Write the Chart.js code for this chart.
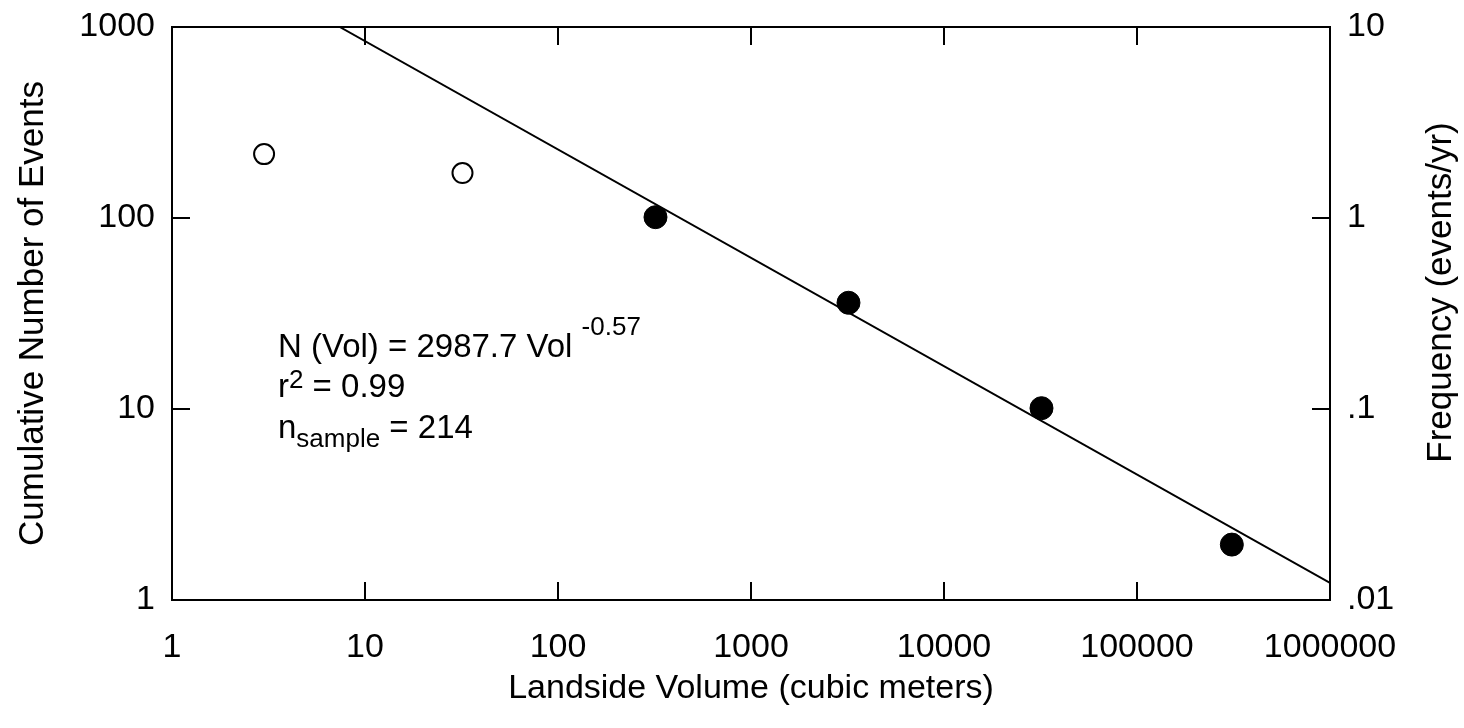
<!DOCTYPE html>
<html>
<head>
<meta charset="utf-8">
<script src="https://cdn.jsdelivr.net/npm/chart.js@4/dist/chart.umd.min.js"></script>
<style>
  html, body { margin: 0; padding: 0; background: #fff; }
  #wrap { width: 1464px; height: 728px; position: relative; }
</style>
</head>
<body>
<div id="wrap"><canvas id="myChart"></canvas></div>
<script>
// landslide volume vs cumulative number of events
const openVol = [3, 32];
const openCount = [216, 172];

const solidVol = [320, 3200, 32000, 310000];
const solidCount = [101, 36, 10.1, 1.95];

// fitted power law, end points
const fitVol = [7.4, 1000000];
const fitCount = [1000, 1.23];

const xTicks = [1, 10, 100, 1000, 10000, 100000, 1000000];
const xTickLabels = ['1', '10', '100', '1000', '10000', '100000', '1000000'];
const yTicks = [1, 10, 100, 1000];
const yTickLabels = ['1', '10', '100', '1000'];
const freqTicks = [0.01, 0.1, 1, 10];
const freqTickLabels = ['.01', '.1', '1', '10'];

const FONT = '"Liberation Sans", Arial, sans-serif';
Chart.defaults.font.family = FONT;
Chart.defaults.color = '#000';

const toPoints = (xs, ys) => xs.map((x, i) => ({ x: x, y: ys[i] }));

const setTicks = (vals) => (scale) => {
    scale.ticks = vals.map(v => ({ value: v }));
};

// fixed axis sizes so the plot box lands where the original is
const fixSize = (w, h) => (s) => {
    if (w !== null) s.width = w;
    if (h !== null) s.height = h;
    s.paddingTop = 0;
    s.paddingBottom = 0;
    s.paddingLeft = 0;
    s.paddingRight = 0;
};

const gridOpts = {
    drawOnChartArea: false,
    drawTicks: true,
    tickLength: -18,
    lineWidth: 2,
    tickWidth: 2,
    color: '#000',
    tickColor: '#000',
};
const borderOpts = { display: true, width: 2, color: '#000' };

// equation text inside the plot + right axis title (reads bottom to top)
const textPlugin = {
    id: 'eqn',
    afterDraw(chart) {
        const ctx = chart.ctx;
        const a = chart.chartArea;
        const big = '33px ' + FONT;
        const small = '26px ' + FONT;
        ctx.save();
        ctx.fillStyle = '#000';
        ctx.textBaseline = 'alphabetic';
        ctx.textAlign = 'left';

        const run = (x, y, parts) => {
            parts.forEach(p => {
                ctx.font = p.f;
                ctx.fillText(p.t, x, y + (p.dy || 0));
                x += ctx.measureText(p.t).width;
            });
        };
        const x0 = a.left + 106;
        run(x0, a.top + 330, [
            { t: 'N (Vol) = 2987.7 Vol ', f: big },
            { t: '-0.57', f: small, dy: -22 },
        ]);
        run(x0, a.top + 370, [
            { t: 'r', f: big },
            { t: '2', f: small, dy: -9 },
            { t: ' = 0.99', f: big },
        ]);
        run(x0, a.top + 411, [
            { t: 'n', f: big },
            { t: 'sample', f: small, dy: 9 },
            { t: ' = 214', f: big },
        ]);

        const s = chart.scales.y2;
        ctx.translate(s.right - 23, (a.top + a.bottom) / 2 - 21);
        ctx.rotate(-Math.PI / 2);
        ctx.textAlign = 'center';
        ctx.textBaseline = 'middle';
        ctx.font = '35px ' + FONT;
        ctx.fillText('Frequency (events/yr)', 0, 0);
        ctx.restore();
    }
};

const data = {
    datasets: [
        {
            label: 'fit',
            data: toPoints(fitVol, fitCount),
            showLine: true,
            borderColor: '#000',
            borderWidth: 2,
            pointRadius: 0,
            xAxisID: 'x',
            yAxisID: 'y',
        },
        {
            label: 'open',
            data: toPoints(openVol, openCount),
            pointRadius: 10,
            pointBorderWidth: 2,
            pointBorderColor: '#000',
            pointBackgroundColor: '#fff',
            xAxisID: 'x',
            yAxisID: 'y',
        },
        {
            label: 'solid',
            data: toPoints(solidVol, solidCount),
            pointRadius: 11.5,
            pointBorderWidth: 1,
            pointBorderColor: '#000',
            pointBackgroundColor: '#000',
            xAxisID: 'x',
            yAxisID: 'y',
        },
    ],
};

const config = {
    type: 'scatter',
    data: data,
    options: {
        responsive: true,
        maintainAspectRatio: false,
        animation: false,
        layout: { padding: 0 },
        plugins: {
            legend: { display: false },
            tooltip: { enabled: false },
        },
        scales: {
            x: {
                type: 'logarithmic',
                position: 'bottom',
                min: 1,
                max: 1000000,
                afterBuildTicks: setTicks(xTicks),
                afterFit: fixSize(null, 128),
                grid: gridOpts,
                border: borderOpts,
                ticks: {
                    font: { size: 34 },
                    padding: 45,
                    maxRotation: 0,
                    autoSkip: false,
                    callback: (v, i) => xTickLabels[i],
                },
                title: {
                    display: true,
                    text: 'Landside Volume (cubic meters)',
                    font: { size: 34 },
                    padding: { top: 0, bottom: 19 },
                },
            },
            x2: {
                type: 'logarithmic',
                position: 'top',
                min: 1,
                max: 1000000,
                afterBuildTicks: setTicks(xTicks),
                afterFit: fixSize(null, 27),
                grid: gridOpts,
                border: borderOpts,
                ticks: { display: false },
            },
            y: {
                type: 'logarithmic',
                position: 'left',
                min: 1,
                max: 1000,
                afterBuildTicks: setTicks(yTicks),
                afterFit: fixSize(172, null),
                grid: gridOpts,
                border: borderOpts,
                ticks: {
                    font: { size: 34 },
                    padding: 35,
                    autoSkip: false,
                    callback: (v, i) => yTickLabels[i],
                },
                title: {
                    display: true,
                    text: 'Cumulative Number of Events',
                    font: { size: 35 },
                    padding: { top: 12, bottom: 0 },
                },
            },
            y2: {
                type: 'logarithmic',
                position: 'right',
                min: 0.01,
                max: 10,
                afterBuildTicks: setTicks(freqTicks),
                afterFit: fixSize(134, null),
                grid: gridOpts,
                border: borderOpts,
                ticks: {
                    font: { size: 34 },
                    padding: 35,
                    autoSkip: false,
                    callback: (v, i) => freqTickLabels[i],
                },
                title: { display: false },
            },
        },
    },
    plugins: [textPlugin],
};

const cts = document.querySelector('#myChart').getContext('2d');
const myChart = new Chart(cts, config);
</script>
</body>
</html>
